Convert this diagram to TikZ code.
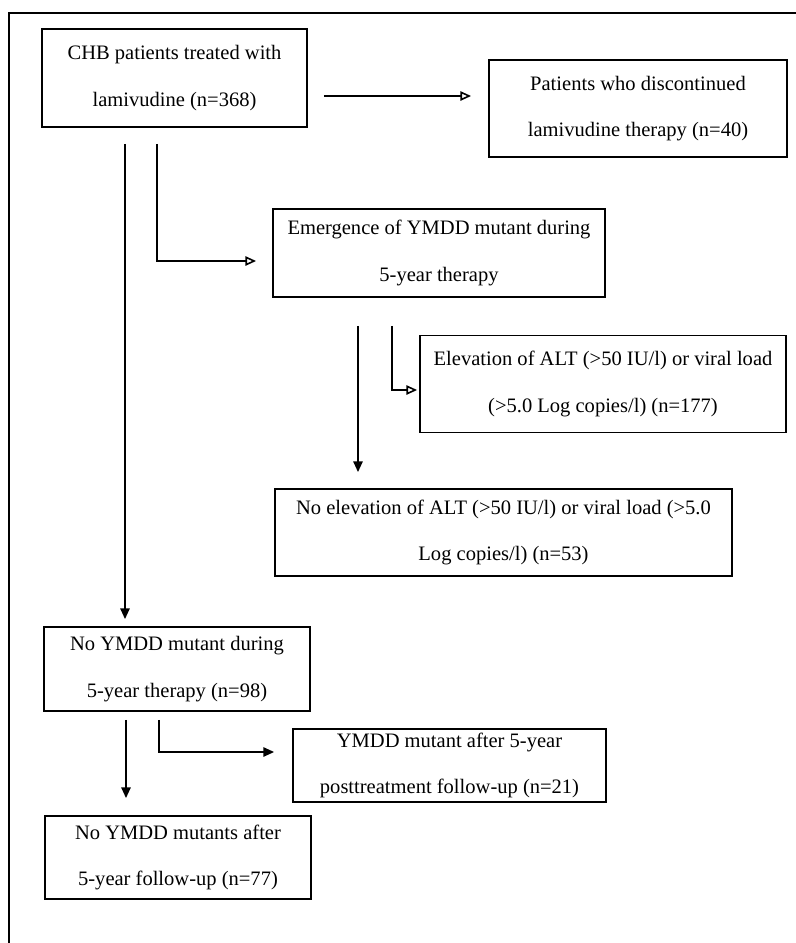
\documentclass[tikz,border=0pt]{standalone}
\usepackage{fontspec}
\setmainfont{Liberation Serif}
\usetikzlibrary{arrows.meta}

\begin{document}
\begin{tikzpicture}[x=0.75pt, y=-0.75pt,
    box/.style={draw, line width=1.4pt, align=center, inner sep=0pt,
        font=\fontsize{15.4pt}{35pt}\selectfont},
    link/.style={line width=1.2pt},
    hollow/.style={link, -{Triangle[open, length=8pt, width=7pt]}},
    solid/.style={link, -{Triangle[length=8pt, width=7pt]}}]
    \useasboundingbox (0,0) rectangle (796,943);
    \draw[line width=1.9pt] (796,13) -- (9,13) -- (9,943);

    \node[box, minimum width=265*0.75pt, minimum height=98*0.75pt] (chb) at (174.5,78)
        {CHB patients treated with\\lamivudine (n=368)};
    \node[box, minimum width=298*0.75pt, minimum height=97*0.75pt] (stop) at (638,108.5)
        {Patients who discontinued\\lamivudine therapy (n=40)};
    \node[box, minimum width=332*0.75pt, minimum height=88*0.75pt] (emerge) at (439,253)
        {Emergence of YMDD mutant during\\5-year therapy};
    \node[box, minimum width=366*0.75pt, minimum height=97*0.75pt] (elev) at (603,384)
        {Elevation of ALT (>50 IU/l) or viral load\\(>5.0 Log copies/l) (n=177)};
    \node[box, minimum width=457*0.75pt, minimum height=87*0.75pt] (noelev) at (503.5,532.5)
        {No elevation of ALT (>50 IU/l) or viral load (>5.0\\Log copies/l) (n=53)};
    \node[box, minimum width=266*0.75pt, minimum height=84*0.75pt] (nomut) at (177,669)
        {No YMDD mutant during\\5-year therapy (n=98)};
    \node[box, minimum width=313*0.75pt, minimum height=73*0.75pt] (after) at (449.5,765.5)
        {YMDD mutant after 5-year\\posttreatment follow-up (n=21)};
    \node[box, minimum width=266*0.75pt, minimum height=83*0.75pt] (follow) at (178,857.5)
        {No YMDD mutants after\\5-year follow-up (n=77)};

    \draw[hollow] ([shift={(16,18)}]chb.east) -- ([shift={(-17,-12.5)}]stop.west);
    \draw[hollow] ([shift={(-17.5,16)}]chb.south) |- ([shift={(-16,8)}]emerge.west);
    \draw[solid] ([shift={(-49.5,16)}]chb.south) -- ([shift={(-52,-7)}]nomut.north);
    \draw[solid] ([shift={(-81,28)}]emerge.south) -- ([shift={(-145.5,-16)}]noelev.north);
    \draw[hollow] ([shift={(-47,28)}]emerge.south) |- ([shift={(-2,6)}]elev.west);
    \draw[solid] ([shift={(-51,8)}]nomut.south) -- ([shift={(-52,-17)}]follow.north);
    \draw[solid] ([shift={(-18,8)}]nomut.south) |- ([shift={(-18,-13.5)}]after.west);
\end{tikzpicture}
\end{document}
